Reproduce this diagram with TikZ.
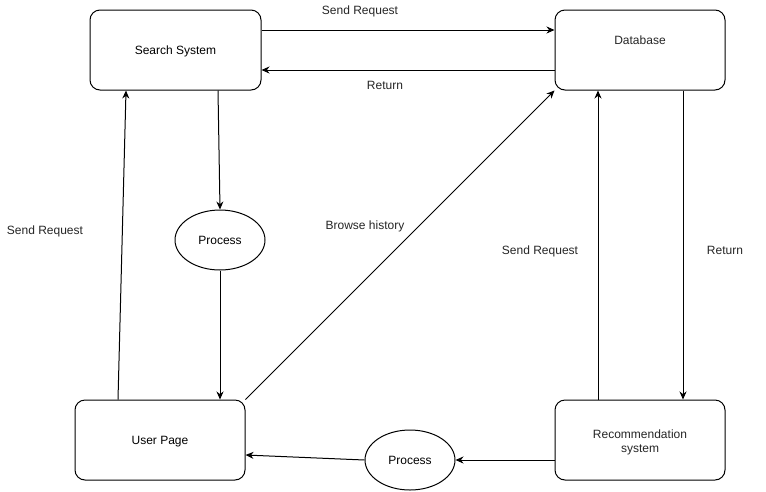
\documentclass[tikz,border=0pt]{standalone}
\usepackage{fontspec}
\setmainfont{Liberation Sans}
\usetikzlibrary{arrows.meta,shapes.geometric}
\begin{document}
\begin{tikzpicture}[x=1pt,y=-1pt,
  font=\fontsize{12}{14}\selectfont,
  txt/.style={text height=8.6pt,text depth=0pt},
  box/.style={draw,line width=1pt,rounded corners=10pt,minimum width=170pt,minimum height=80pt,inner sep=0pt,align=center,txt},
  proc/.style={draw,ellipse,line width=1pt,minimum width=90pt,minimum height=60pt,inner sep=0pt,txt},
  arr/.style={line width=1pt,-{Stealth[length=8pt,width=7pt]}},
  lbl/.style={inner sep=0pt,text=black!85,txt}]
\useasboundingbox[fill=white] (0,0) rectangle (766,491);
\node[box,minimum width=171pt] (ss) at (175.5,50) {Search System};
\node[box] (db) at (640,50) {};
\node[lbl] (dbt) at (640,40.5) {Database};
\node[box] (up) at (160,440) {User Page};
\node[box] (rs) at (640,440) {};
\node[lbl] (rst1) at (640,434) {Recommendation};
\node[lbl] (rst2) at (640,448) {system};
\node[proc] (p1) at (220,240) {Process};
\node[proc] (p2) at (410,460) {Process};
% connectors
\draw[arr] ([yshift=20pt]ss.east) -- ([yshift=20pt]db.west);
\draw[arr] ([yshift=-20pt]db.west) -- ([yshift=-20pt]ss.east);
\draw[arr] ([xshift=42.5pt]ss.south) -- (p1.north);
\draw[arr] (p1.south) -- ([xshift=60pt]up.north);
\draw[arr] ([xshift=-42pt]up.north) -- ([xshift=-49.5pt]ss.south);
\draw[arr] (up.north east) -- (db.south west);
\draw[arr] ([xshift=-42pt]rs.north) -- ([xshift=-42pt]db.south);
\draw[arr] ([xshift=43pt]db.south) -- ([xshift=43pt]rs.north);
\draw[arr] ([yshift=-20pt]rs.west) -- (p2.east);
\draw[arr] (p2.west) -- ([yshift=-15pt]up.east);
% labels
\node[lbl] (l1) at (360,10.3) {Send Request};
\node[lbl] (l2) at (385,85.5) {Return};
\node[lbl] (l3) at (45,230.5) {Send Request};
\node[lbl] (l4) at (365,225.5) {Browse history};
\node[lbl] (l5) at (540,250.5) {Send Request};
\node[lbl] (l6) at (725,250.5) {Return};
\end{tikzpicture}
\end{document}
